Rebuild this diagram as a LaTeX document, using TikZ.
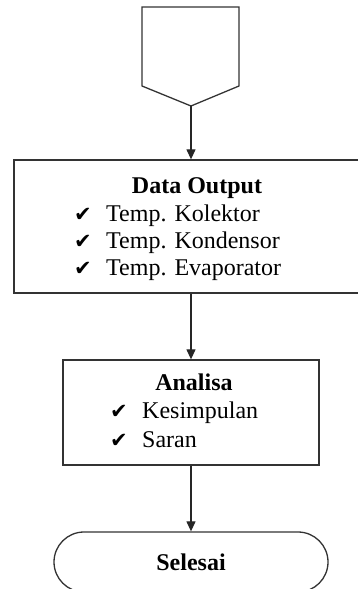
\documentclass[tikz,border=0pt]{standalone}
\usepackage{fontspec}
\setmainfont{Liberation Serif}
\newfontfamily\simbol{DejaVu Sans}
\usetikzlibrary{positioning}
\usetikzlibrary{shapes.misc}
\usetikzlibrary{arrows.meta}
\newcommand{\cek}{\makebox[32pt][l]{\simbol\fontsize{21}{21}\selectfont ✔}}

\begin{document}
\begin{tikzpicture}[x=1pt, y=1pt,
  every node/.style={inner sep=0pt, font=\fontsize{24}{28}\selectfont},
  kotak/.style={rectangle, draw=black!80, line width=1.3pt},
  garis/.style={line width=1.2pt, draw=black!85, -{Triangle[length=10pt, width=9pt]}},
  judul/.style={font=\fontsize{24}{28}\selectfont\bfseries, anchor=base},
  butir/.style={anchor=base west}]
\useasboundingbox (0,0) rectangle (358,-589);
% konektor halaman
\draw [line width=1.3pt, draw=black!80] (142,-7) -- (239,-7) -- (239,-86) -- (191,-106) -- (142,-86) -- cycle;
\coordinate (konektor) at (191,-106);
% kotak proses
\node (dataout) [kotak, minimum width=354pt, minimum height=133pt] at (191,-226.5) {};
\node (analisa) [kotak, minimum width=256pt, minimum height=105pt] at (191,-412.5) {};
\node (selesai) [rounded rectangle, draw=black!80, line width=1.3pt, minimum width=274pt, minimum height=60pt] at (191,-562) {\bfseries Selesai};
% teks
\node (judul1) [judul] at (197,-193) {Data Output};
\node (kolektor) [butir] at (74,-221) {\cek Temp. Kolektor};
\node (kondensor) [butir] at (74,-248) {\cek Temp. Kondensor};
\node (evaporator) [butir] at (74,-275) {\cek Temp. Evaporator};
\node (judul2) [judul] at (194,-390) {Analisa};
\node (kesimpulan) [butir] at (110,-418) {\cek Kesimpulan};
\node (saran) [butir] at (110,-447) {\cek Saran};
% garis alir
\draw [garis] (konektor) to (dataout.north);
\draw [garis] (dataout.south) to (analisa.north);
\draw [garis] (analisa.south) to (selesai.north);
\end{tikzpicture}
\end{document}
